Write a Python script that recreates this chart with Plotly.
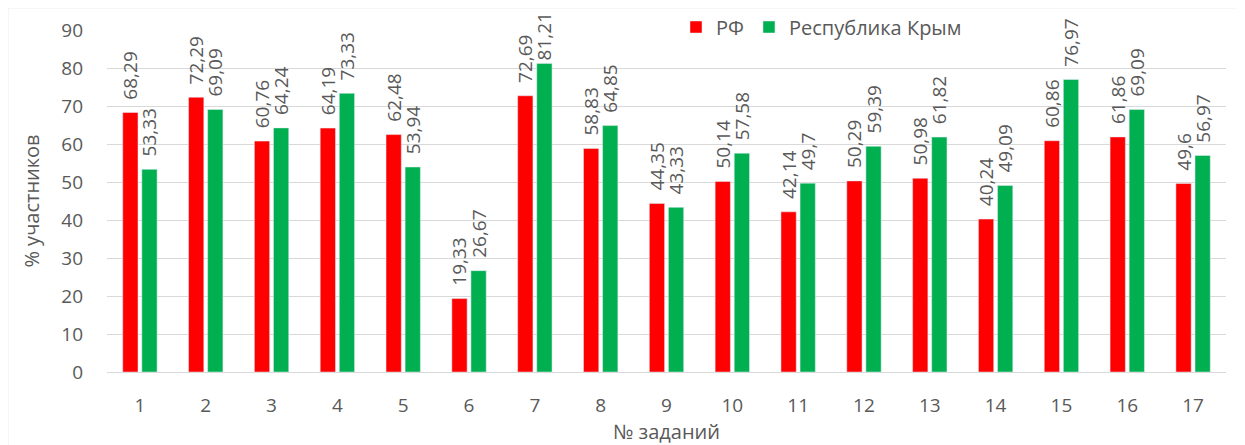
import plotly.graph_objects as go

# Data
tasks = [str(i) for i in range(1, 18)]
rf = [68.29, 72.29, 60.76, 64.19, 62.48, 19.33, 72.69, 58.83, 44.35, 50.14,
      42.14, 50.29, 50.98, 40.24, 60.86, 61.86, 49.6]
crimea = [53.33, 69.09, 64.24, 73.33, 53.94, 26.67, 81.21, 64.85, 43.33, 57.58,
          49.7, 59.39, 61.82, 49.09, 76.97, 69.09, 56.97]


def fmt(vals, pad=2):
    # decimal comma, nbsp pad to lift label off the bar like Excel does
    out = []
    for v in vals:
        p = 0 if v > 80 else pad  # Excel squeezed the tallest label down
        out.append("\u00a0" * p + str(v).replace('.', ','))
    return out


FONT = "Open Sans"
GREY = "#595959"
lbl_font = dict(size=19, color=GREY, family=FONT)

# page body has an 8px margin, so work in window pixels and shift
OFF = 8
W, H = 1245 - OFF, 445 - OFF
px_left, px_right, px_top, px_bottom = 107, 1226, 30, 372  # plot area in window px
L, T = px_left - OFF, px_top - OFF
R, B = W - (px_right - OFF), H - (px_bottom - OFF)
pw, ph = px_right - px_left, px_bottom - px_top


def xp(x):
    return (x - px_left) / pw


def yp(y):
    return (px_bottom - y) / ph


fig = go.Figure()
fig.add_trace(go.Bar(x=tasks, y=rf, name="РФ", marker_color="#ff0000",
                     text=fmt(rf), textposition="outside", textangle=-90,
                     textfont=lbl_font, constraintext="none",
                     cliponaxis=False))
fig.add_trace(go.Bar(x=tasks, y=crimea, name="Республика Крым", marker_color="#00b050",
                     text=fmt(crimea), textposition="outside", textangle=-90,
                     textfont=lbl_font, constraintext="none",
                     cliponaxis=False))

fig.update_layout(
    width=W, height=H,
    margin=dict(l=L, r=R, t=T, b=B, autoexpand=False),
    plot_bgcolor="white", paper_bgcolor="white",
    font=dict(family=FONT, color=GREY, size=18),
    bargap=0.42, bargroupgap=0.2,
    legend=dict(orientation="h", x=xp(676), y=yp(27),
                xanchor="left", yanchor="middle", bgcolor="rgba(0,0,0,0)",
                font=dict(size=20, color=GREY), traceorder="normal"),
    xaxis=dict(showgrid=False, showline=True, linecolor="#d9d9d9", linewidth=1,
               ticks="", tickfont=dict(size=19, color=GREY), automargin=False,
               ticklabelstandoff=16,
               title=dict(text="№ заданий", font=dict(size=20, color=GREY), standoff=7)),
    yaxis=dict(range=[0, 90], dtick=10, showgrid=True, gridcolor="#d9d9d9",
               gridwidth=1, zeroline=False, ticks="", ticklabelstandoff=23,
               tickfont=dict(size=19, color=GREY), automargin=False,
               title=dict(text="% участников", font=dict(size=20, color=GREY), standoff=16)),
    shapes=[dict(type="rect", xref="paper", yref="paper",
                 x0=xp(7.5), x1=xp(1260), y0=yp(460), y1=yp(7.5),
                 line=dict(color="#d9d9d9", width=1.5), layer="above")],
    annotations=[dict(text="<i>Диаграмма 6</i>", xref="paper", yref="paper",
                      x=xp(1247), y=yp(9),
                      xanchor="right", yanchor="bottom", showarrow=False,
                      font=dict(family="Liberation Serif", size=30, color="black"))],
)

fig.write_html("out.html")
